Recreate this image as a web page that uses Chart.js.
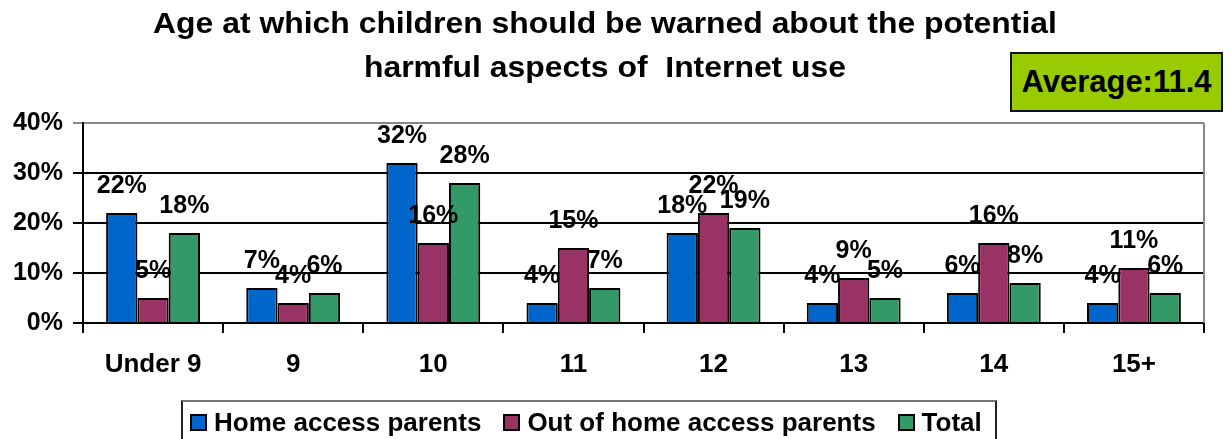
<!DOCTYPE html>
<html>
<head>
<meta charset="utf-8">
<script src="https://cdn.jsdelivr.net/npm/chart.js@4.4.1/dist/chart.umd.min.js"></script>
<style>
  html, body { margin: 0; padding: 0; background: #fff; }
  body { width: 1231px; height: 439px; position: relative; overflow: hidden;
         font-family: "Liberation Sans", Arial, sans-serif; font-weight: bold; color: #000; }
  #wrap { position: absolute; left: 0; top: 0; width: 1231px; height: 439px; }
  #title { position: absolute; left: 0; top: 1px; width: 1210px; text-align: center;
           font-size: 29px; line-height: 44px; transform: scaleX(1.1); transform-origin: 605px 0; }
  #avg { position: absolute; left: 1010px; top: 52px; width: 209px; height: 56px;
         border: 2px solid #111; background: #99cc00; font-size: 31px;
         line-height: 56px; text-align: center; }
  #legend { position: absolute; left: 181px; top: 400px; width: 816px; height: 50px;
            border: 2px solid #222; border-top-color: #777; box-sizing: border-box;
            display: flex; align-items: flex-start; padding: 6px 0 0 7px; font-size: 26px; }
  #legend .item { display: flex; align-items: center; margin-right: 22px; line-height: 28px; white-space: nowrap; }
  #legend .box { width: 13px; height: 13px; border: 2px solid #000; margin-right: 7px; }
</style>
</head>
<body>
<div id="wrap"><canvas id="myChart" width="1231" height="439"></canvas></div>
<div id="title">Age at which children should be warned about the potential<br>harmful aspects of&nbsp; Internet use</div>
<div id="avg">Average:11.4</div>
<div id="legend"></div>
<script>
const categories = ['Under 9', '9', '10', '11', '12', '13', '14', '15+'];
const seriesNames = ['Home access parents', 'Out of home access parents', 'Total'];
const homeAccess = [22, 7, 32, 4, 18, 4, 6, 4];
const outOfHome = [5, 4, 16, 15, 22, 9, 16, 11];
const total = [18, 6, 28, 7, 19, 5, 8, 6];
const yTicks = [0, 10, 20, 30, 40];

const colors = ['#0066cc', '#993366', '#339966'];
const font = '"Liberation Sans", Arial, sans-serif';

const ctx = document.getElementById('myChart');

// value labels above each bar
const barLabels = {
  id: 'barLabels',
  afterDatasetsDraw(chart) {
    const c = chart.ctx;
    c.save();
    c.font = 'bold 25px ' + font;
    c.fillStyle = '#000';
    c.textAlign = 'center';
    c.textBaseline = 'middle';
    chart.data.datasets.forEach((ds, i) => {
      chart.getDatasetMeta(i).data.forEach((bar, j) => {
        c.fillText(ds.data[j] + '%', bar.x, bar.y - 27);
      });
    });
    c.restore();
  }
};

// grey right edge of the plot area
const plotEdge = {
  id: 'plotEdge',
  beforeDatasetsDraw(chart) {
    const a = chart.chartArea;
    const c = chart.ctx;
    c.save();
    c.strokeStyle = '#888';
    c.lineWidth = 2;
    c.beginPath();
    c.moveTo(a.right, a.top);
    c.lineTo(a.right, a.bottom);
    c.stroke();
    c.restore();
  }
};

new Chart(ctx, {
  type: 'bar',
  data: {
    labels: categories,
    datasets: [homeAccess, outOfHome, total].map((d, i) => ({
      label: seriesNames[i],
      data: d,
      backgroundColor: colors[i],
      borderColor: '#000',
      borderWidth: 2,
      categoryPercentage: 0.67,
      barPercentage: 1
    }))
  },
  options: {
    responsive: false,
    animation: false,
    layout: { padding: { top: 123, right: 27, bottom: 56, left: 0 } },
    plugins: {
      legend: { display: false },
      title: { display: false },
      tooltip: { enabled: false }
    },
    scales: {
      x: {
        afterFit(scale) { scale.height = 60; },
        border: { color: '#000', width: 2 },
        grid: { drawOnChartArea: false, drawTicks: true, tickLength: 10, color: '#000', lineWidth: 2, offset: true },
        ticks: { color: '#000', padding: 16, font: { family: font, size: 26, weight: 'bold' } }
      },
      y: {
        min: yTicks[0],
        max: yTicks[yTicks.length - 1],
        afterFit(scale) { scale.width = 83; },
        afterBuildTicks(scale) { scale.ticks = yTicks.map(v => ({ value: v })); },
        border: { color: '#000', width: 2 },
        grid: {
          color: c => (c.tick && c.tick.value === 40 ? '#888' : '#000'),
          lineWidth: 2,
          tickLength: 10
        },
        ticks: {
          color: '#000',
          padding: 10,
          font: { family: font, size: 25, weight: 'bold' },
          callback: v => v + '%'
        }
      }
    }
  },
  plugins: [plotEdge, barLabels]
});

const legend = document.getElementById('legend');
seriesNames.forEach((name, i) => {
  const item = document.createElement('div');
  item.className = 'item';
  item.innerHTML = '<span class="box" style="background:' + colors[i] + '"></span>' + name;
  legend.appendChild(item);
});
</script>
</body>
</html>
